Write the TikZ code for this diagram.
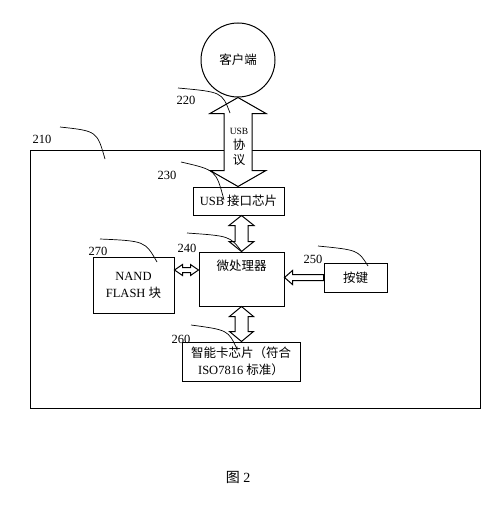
\documentclass[tikz,border=0pt]{standalone}
\usepackage{fontspec}
\setmainfont{Liberation Serif}
\newfontfamily\cjk{Noto Sans CJK SC}
\usetikzlibrary{calc}

\begin{document}
\begin{tikzpicture}[
  x=1pt, y=-1pt,
  font=\fontsize{12.5}{17}\selectfont,
  box/.style={draw, line width=1pt, inner sep=2pt, align=center},
  num/.style={font=\fontsize{12.5}{14}\selectfont, inner sep=0pt},
  leader/.style={line width=0.7pt},
  fatdbl/.style n args={3}{draw, fill=white, line width=1pt, to path={
    let \p1=(\tikztostart), \p2=(\tikztotarget),
        \n1={atan2(\y2-\y1,\x2-\x1)} in
    (\p1) -- ($(\p1)+(\n1:#3)+(\n1+90:#2)$) -- ($(\p1)+(\n1:#3)+(\n1+90:#1)$)
    -- ($(\p2)+(\n1:-#3)+(\n1+90:#1)$) -- ($(\p2)+(\n1:-#3)+(\n1+90:#2)$)
    -- (\p2) -- ($(\p2)+(\n1:-#3)+(\n1-90:#2)$) -- ($(\p2)+(\n1:-#3)+(\n1-90:#1)$)
    -- ($(\p1)+(\n1:#3)+(\n1-90:#1)$) -- ($(\p1)+(\n1:#3)+(\n1-90:#2)$) -- cycle}},
  fatone/.style n args={3}{draw, fill=white, line width=1pt, to path={
    let \p1=(\tikztostart), \p2=(\tikztotarget),
        \n1={atan2(\y2-\y1,\x2-\x1)} in
    ($(\p1)+(\n1+90:#1)$) -- ($(\p2)+(\n1:-#3)+(\n1+90:#1)$) -- ($(\p2)+(\n1:-#3)+(\n1+90:#2)$)
    -- (\p2) -- ($(\p2)+(\n1:-#3)+(\n1-90:#2)$) -- ($(\p2)+(\n1:-#3)+(\n1-90:#1)$)
    -- ($(\p1)+(\n1-90:#1)$) -- cycle}}
]
\useasboundingbox (0,0) rectangle (502,506);

% Device frame
\draw[line width=1pt] (30,150) rectangle (480,408);

% Client and blocks
\node[circle, draw, line width=1pt, minimum size=74pt] (client) at (238,60) {\cjk 客户端};
\node[box, minimum width=91pt, minimum height=28pt] (usb) at (238.5,201) {USB {\cjk 接口芯片}};
\node[box, minimum width=85pt, minimum height=54pt] (mcu) at (241.5,279) {};
\node[anchor=north] (mcutext) at ([yshift=-5pt]mcu.north) {\cjk 微处理器};
\node[box, minimum width=81pt, minimum height=56pt] (nand) at (133.5,285) {NAND\\FLASH {\cjk 块}};
\node[box, minimum width=63pt, minimum height=29pt] (key) at (355.5,277.5) {\cjk 按键};
\node[box, minimum width=118pt, minimum height=39pt] (card) at (241,361.5)
  {{\cjk 智能卡芯片（符合}\\ISO7816 {\cjk 标准）}};

% Block arrows
\draw[fatdbl={14pt}{28pt}{16pt}] (client.south) to (client.south |- usb.north);
\node[align=center, font=\fontsize{12.5}{15}\selectfont] (proto) at (239,147)
  {{\fontsize{9.5}{11}\selectfont USB}\\{\cjk 协}\\{\cjk 议}};
\draw[fatdbl={6.5pt}{12.5pt}{10pt}] (mcu.north |- usb.south) to (mcu.north);
\draw[fatdbl={6.5pt}{12pt}{10pt}] (mcu.south) to (mcu.south |- card.north);
\draw[fatdbl={2.5pt}{5.5pt}{8pt}] ([yshift=15pt]nand.east) to ([yshift=15pt]nand.east -| mcu.west);
\draw[fatone={3pt}{7pt}{8pt}] (key.west) to (key.west -| mcu.east);

% Reference numbers
\node[num] (n210) at (42,139) {210};
\node[num] (n220) at (186,100) {220};
\node[num] (n230) at (167,175) {230};
\node[num] (n240) at (187,248) {240};
\node[num] (n270) at (98,251) {270};
\node[num] (n250) at (313,259) {250};
\node[num] (n260) at (181,339) {260};

\draw[leader] (60,127) .. controls (97,131) .. (105,159);
\draw[leader] (178,88) .. controls (222,92) .. (230,113);
\draw[leader] (181,162) .. controls (216,170) .. (224,200);
\draw[leader] (187,233) .. controls (230,236) .. (242,252);
\draw[leader] (100,239) .. controls (145,241) .. (157,262);
\draw[leader] (318,246) .. controls (358,250) .. (368,266);
\draw[leader] (191,325) .. controls (228,330) .. (237,349);

% Caption
\node[font=\fontsize{14}{16}\selectfont] (caption) at (238,477) {{\cjk 图} 2};

\end{tikzpicture}
\end{document}
